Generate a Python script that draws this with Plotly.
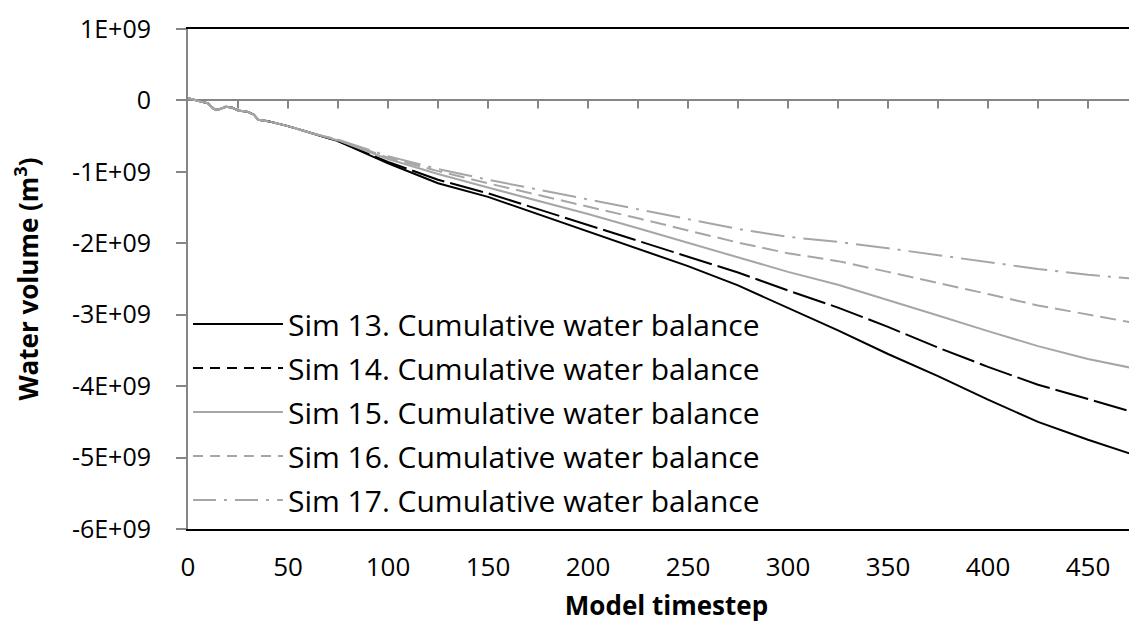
import plotly.graph_objects as go

# ---- data ----
timesteps = [0, 5, 10, 13, 15, 19, 22, 25, 30, 33, 35, 40, 50, 62, 75,
             100, 125, 150, 175, 200, 225, 250, 275, 300, 325, 350, 375,
             400, 425, 450, 478]
early = [0.03, 0.0, -0.04, -0.12, -0.13, -0.09, -0.10, -0.14, -0.16, -0.20,
         -0.27, -0.29, -0.36, -0.46]  # common to all simulations (x1e9 m3)

sim13 = early + [-0.57, -0.88, -1.16, -1.35, -1.59, -1.83, -2.07, -2.32, -2.59,
                 -2.90, -3.22, -3.55, -3.86, -4.19, -4.50, -4.75, -5.01]
sim14 = early + [-0.57, -0.86, -1.11, -1.30, -1.52, -1.74, -1.96, -2.19, -2.41,
                 -2.66, -2.90, -3.17, -3.46, -3.73, -3.98, -4.18, -4.41]
sim15 = early + [-0.56, -0.82, -1.03, -1.22, -1.40, -1.59, -1.79, -1.99, -2.20,
                 -2.40, -2.58, -2.79, -3.01, -3.23, -3.44, -3.62, -3.78]
sim16 = early + [-0.55, -0.80, -0.99, -1.16, -1.32, -1.49, -1.65, -1.82, -1.99,
                 -2.14, -2.25, -2.40, -2.55, -2.71, -2.87, -3.00, -3.14]
sim17 = early + [-0.55, -0.78, -0.96, -1.11, -1.25, -1.39, -1.53, -1.66, -1.80,
                 -1.91, -1.98, -2.07, -2.17, -2.27, -2.36, -2.44, -2.51]

names = ["Sim 13. Cumulative water balance",
         "Sim 14. Cumulative water balance",
         "Sim 15. Cumulative water balance",
         "Sim 16. Cumulative water balance",
         "Sim 17. Cumulative water balance"]
series = [sim13, sim14, sim15, sim16, sim17]

y_tickvals = [1e9, 0, -1e9, -2e9, -3e9, -4e9, -5e9, -6e9]
y_ticktext = ["1E+09", "0", "-1E+09", "-2E+09", "-3E+09", "-4E+09", "-5E+09", "-6E+09"]
x_tickvals = [0, 50, 100, 150, 200, 250, 300, 350, 400, 450]
x_minor_ticks = list(range(25, 478, 25))

# ---- styles ----
BLACK = "#000000"
GREY = "#a6a6a6"
AXIS_GREY = "#868686"
colors = [BLACK, BLACK, GREY, GREY, GREY]
plot_dash = ["solid", "34px,6px", "solid", "16px,7px", "34px,8px,3px,8px"]
legend_dash = ["solid", "10px,7px", "solid", "10px,7px", "23px,8px,3px,8px"]
FONT = "Open Sans"

fig = go.Figure()
for name, vals, col, pd_, ld in zip(names, series, colors, plot_dash, legend_dash):
    fig.add_trace(go.Scatter(
        x=timesteps, y=[v * 1e9 for v in vals], mode="lines",
        line=dict(color=col, width=2, dash=pd_), showlegend=False,
        hoverinfo="skip"))
    fig.add_trace(go.Scatter(
        x=[None], y=[None], mode="lines", name=name, legendgroup=name,
        line=dict(color=col, width=2, dash=ld), showlegend=True))

shapes = []
for t in x_minor_ticks:
    shapes.append(dict(type="line", xref="x", yref="y", ysizemode="pixel",
                       yanchor=0, x0=t, x1=t, y0=0, y1=-8,
                       line=dict(color=AXIS_GREY, width=2)))

fig.update_layout(
    width=1137, height=626,
    margin=dict(l=180, r=0, t=21, b=105, autoexpand=False),
    paper_bgcolor="white", plot_bgcolor="white",
    font=dict(family=FONT, size=25, color="black"),
    shapes=shapes,
    showlegend=True,
    legend=dict(x=0.0, y=0.462, xanchor="left", yanchor="top",
                bgcolor="rgba(0,0,0,0)", borderwidth=0,
                itemwidth=90, tracegroupgap=2,
                font=dict(family=FONT, size=30, color="black")),
    xaxis=dict(range=[0, 478.5], tickvals=x_tickvals,
               ticktext=[str(v) for v in x_tickvals],
               showgrid=False, zeroline=False,
               showline=True, linecolor=BLACK, linewidth=2, mirror=True,
               ticks="", ticklabelstandoff=14,
               tickfont=dict(family=FONT, size=26),
               title=dict(text="<b>Model timestep</b>", standoff=14,
                          font=dict(family=FONT, size=26))),
    yaxis=dict(range=[-6e9, 1e9], tickvals=y_tickvals, ticktext=y_ticktext,
               showgrid=False, zeroline=True, zerolinecolor=AXIS_GREY,
               zerolinewidth=2,
               showline=True, linecolor=AXIS_GREY, linewidth=2,
               ticks="outside", ticklen=10, tickwidth=2, tickcolor=AXIS_GREY,
               ticklabelstandoff=20,
               tickfont=dict(family=FONT, size=25),
               title=dict(text="<b>Water volume (m<sup>3</sup>)</b>", standoff=34,
                          font=dict(family=FONT, size=26))),
)

fig.write_html("out.html")
